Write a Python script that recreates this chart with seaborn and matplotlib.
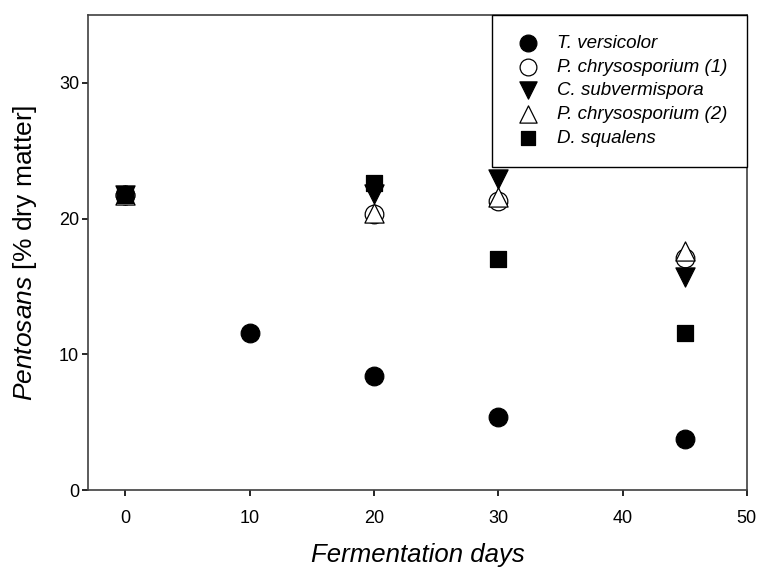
import numpy as np
import pandas as pd
import seaborn as sns
import matplotlib.pyplot as plt

# Pentosan content during fungal pretreatment
species = ["T. versicolor", "P. chrysosporium (1)", "C. subvermispora",
           "P. chrysosporium (2)", "D. squalens"]

days_tv = [0, 10, 20, 30, 45]
pent_tv = [21.7, 11.6, 8.4, 5.4, 3.8]

days_pc1 = [0, 20, 30, 45]
pent_pc1 = [21.7, 20.3, 21.3, 17.1]

days_cs = [0, 20, 30, 45]
pent_cs = [21.7, 21.8, 22.9, 15.7]

days_pc2 = [0, 20, 30, 45]
pent_pc2 = [21.7, 20.4, 21.6, 17.6]

days_ds = [0, 20, 30, 45]
pent_ds = [21.7, 22.6, 17.0, 11.6]

all_days = [days_tv, days_pc1, days_cs, days_pc2, days_ds]
all_pent = [pent_tv, pent_pc1, pent_cs, pent_pc2, pent_ds]

frames = []
for name, d, p in zip(species, all_days, all_pent):
    frames.append(pd.DataFrame({"species": name, "days": d, "pentosans": p}))
df = pd.concat(frames, ignore_index=True)

sns.set_style("white")
plt.rcParams['font.family'] = ['Liberation Sans', 'DejaVu Sans']
plt.rcParams['mathtext.fontset'] = 'custom'
plt.rcParams['mathtext.rm'] = 'Liberation Sans'
plt.rcParams['mathtext.it'] = 'Liberation Sans:italic'
plt.rcParams['text.color'] = 'black'
plt.rcParams['axes.labelcolor'] = 'black'
plt.rcParams['xtick.color'] = 'black'
plt.rcParams['ytick.color'] = 'black'

styles = {
    "T. versicolor": dict(marker="o", s=180, facecolor="black"),
    "P. chrysosporium (1)": dict(marker="o", s=180, facecolor="white"),
    "C. subvermispora": dict(marker="v", s=190, facecolor="black"),
    "P. chrysosporium (2)": dict(marker="^", s=190, facecolor="white"),
    "D. squalens": dict(marker="s", s=140, facecolor="black"),
}

fig = plt.figure(figsize=(7.59, 5.70), dpi=100)
ax = fig.add_axes([0.116, 0.140, 0.868, 0.834])

for i, name in enumerate(species):
    st = styles[name]
    sub = df[df["species"] == name]
    sns.scatterplot(data=sub, x="days", y="pentosans", ax=ax,
                    marker=st["marker"], s=st["s"], color=st["facecolor"],
                    edgecolor="black", linewidth=0.9, label=name, zorder=3 + i)

ax.set_xlim(-3, 50)
ax.set_ylim(0, 35)
ax.set_xticks([0, 10, 20, 30, 40, 50])
ax.set_yticks([0, 10, 20, 30])
ax.tick_params(axis="both", direction="out", length=4.5, width=1.2,
               labelsize=13, left=True, bottom=True)
ax.tick_params(axis="x", pad=10)
ax.tick_params(axis="y", pad=2)
for sp in ax.spines.values():
    sp.set_color("#404040")
    sp.set_linewidth(1.2)

ax.set_xlabel("Fermentation days", fontsize=18.5, style="italic", labelpad=11)
ax.set_ylabel(r"$\mathit{Pentosans}$ [% dry matter]", fontsize=19, labelpad=14)

leg = ax.legend(loc="upper right", borderaxespad=0, fancybox=False,
                edgecolor="black", framealpha=1, prop=dict(style="italic", size=13.5),
                handletextpad=0.65, handlelength=1.78, labelspacing=0.36,
                borderpad=1.05, markerscale=0.9)
leg.get_frame().set_linewidth(1.0)

plt.savefig("out.png", dpi=100)
